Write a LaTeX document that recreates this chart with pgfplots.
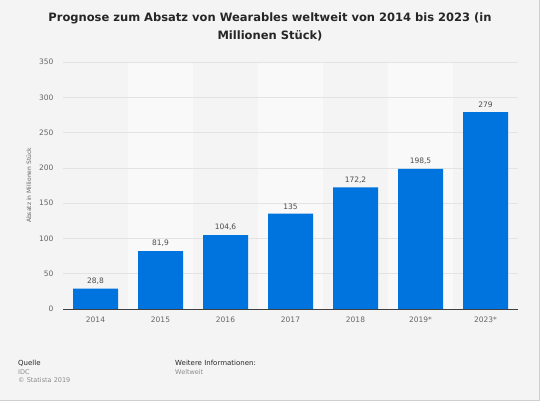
\documentclass[border=0pt]{standalone}
\usepackage{pgfplots}
\pgfplotsset{compat=1.18}
\usepackage{fontspec}
\setmainfont{DejaVu Sans}
\definecolor{bg}{HTML}{F4F4F4}
\definecolor{band}{HTML}{F9F9F9}
\definecolor{barblue}{HTML}{0074DE}
\definecolor{ticktxt}{HTML}{666666}
\definecolor{gridc}{HTML}{E3E3E3}
\definecolor{framec}{HTML}{CFCFCF}
\begin{document}
\begin{tikzpicture}
\useasboundingbox (0pt,0pt) rectangle (540pt,401pt);
\fill[bg] (0pt,0pt) rectangle (540pt,401pt);
\draw[framec,line width=1.2pt] (0pt,0.6pt) -- (539.4pt,0.6pt) -- (539.4pt,401pt);
% lighter column bands behind 2015, 2017, 2019*
\foreach \xa in {127.9,257.7,387.5}
  \fill[band] (\xa pt,92pt) rectangle ++(65pt,247pt);
\node[align=center,font=\bfseries\fontsize{11.5}{18}\selectfont,text=black!85] at (270pt,374pt)
  {Prognose zum Absatz von Wearables weltweit von 2014 bis 2023 (in\\Millionen Stück)};
\begin{axis}[
  at={(63pt,92pt)}, anchor=south west,
  width=455pt, height=247pt, scale only axis,
  xmin=-0.5, xmax=6.5,
  ymin=0, ymax=350,
  xtick={0,...,6},
  xticklabels={2014,2015,2016,2017,2018,2019*,2023*},
  ytick={0,50,...,350},
  axis x line*=bottom,
  axis y line*=left,
  y axis line style={draw=none},
  ymajorgrids=true,
  grid style={gridc, line width=0.6pt},
  major tick length=0pt,
  x axis line style={black!75, line width=0.9pt, -},
  tick label style={font=\fontsize{7.5}{9}\selectfont, text=ticktxt},
  xticklabel style={yshift=-4pt},
  yticklabel style={xshift=-6pt},
  ylabel={Absatz in Millionen Stück},
  ylabel style={font=\fontsize{6}{7}\selectfont, text=ticktxt, at={(axis description cs:-0.075,0.5)}, anchor=center},
  /pgf/number format/assume math mode=true,
]
\addplot[ybar, bar width=45pt, bar shift=0pt, fill=barblue, draw=none,
  nodes near coords,
  nodes near coords style={font=\fontsize{7.5}{9}\selectfont, text=black!70,
    /pgf/number format/assume math mode=true,
    /pgf/number format/use comma, /pgf/number format/fixed,
    /pgf/number format/precision=1, yshift=1pt}]
  coordinates {(0,28.8) (1,81.9) (2,104.6) (3,135) (4,172.2) (5,198.5) (6,279)};
\end{axis}
\begin{scope}[every node/.style={anchor=base west, inner sep=0pt}]
\node[font=\fontsize{7}{8}\selectfont,text=black!85] at (18pt,35pt) {Quelle};
\node[font=\fontsize{6.5}{8}\selectfont,text=black!45] at (18pt,26.5pt) {IDC};
\node[font=\fontsize{6.5}{8}\selectfont,text=black!45] at (18pt,18pt) {© Statista 2019};
\node[font=\fontsize{7}{8}\selectfont,text=black!85] at (175pt,35pt) {Weitere Informationen:};
\node[font=\fontsize{6.5}{8}\selectfont,text=black!45] at (175pt,26.5pt) {Weltweit};
\end{scope}
\end{tikzpicture}
\end{document}
